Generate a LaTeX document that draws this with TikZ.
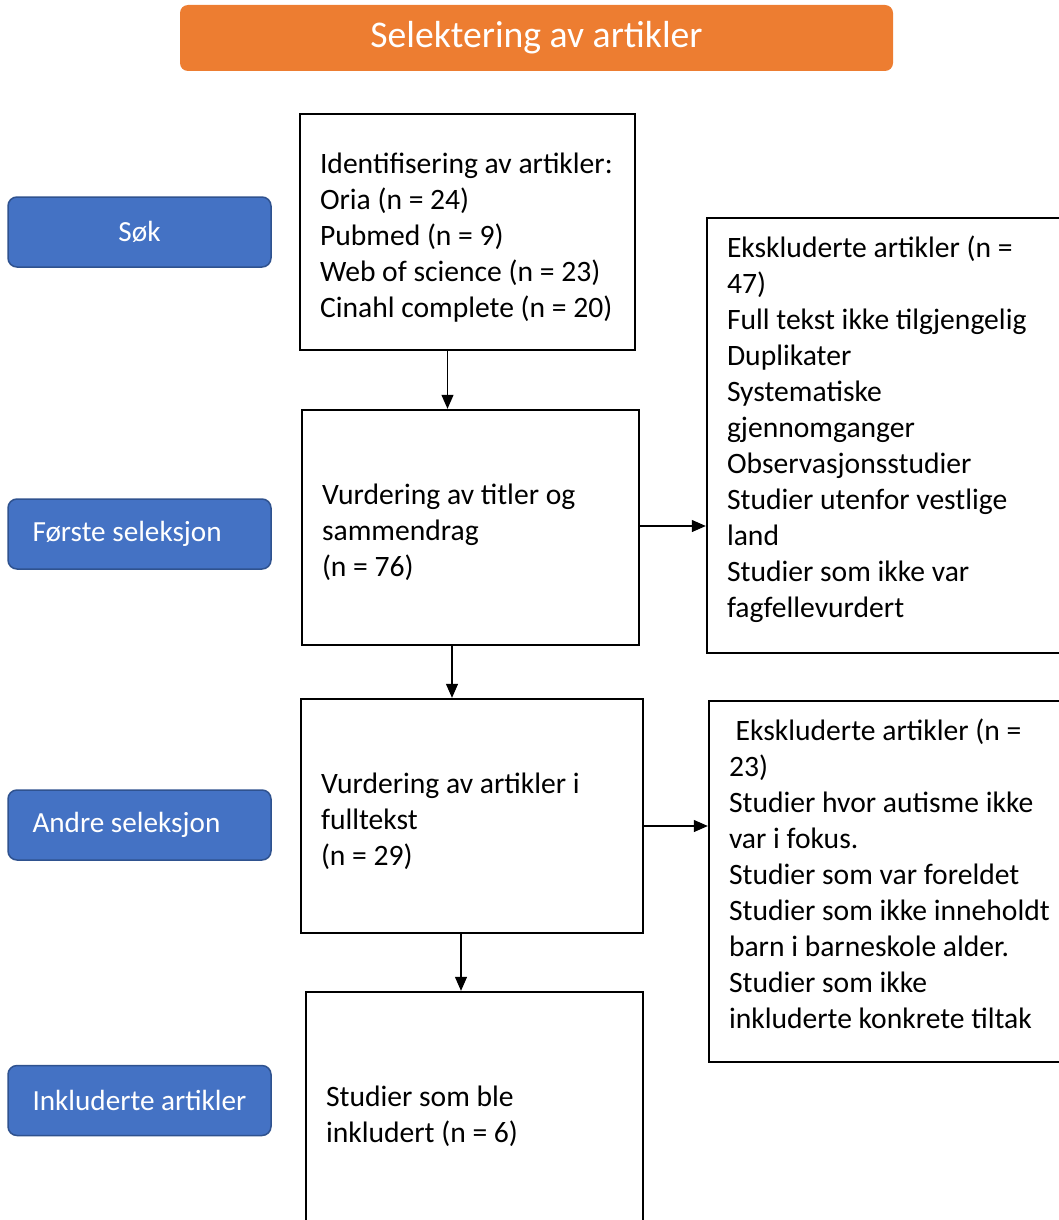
\documentclass[tikz,border=0pt]{standalone}
\usepackage{fontspec}
\setmainfont{Carlito}
\usetikzlibrary{arrows.meta, positioning}

\definecolor{phaseblue}{HTML}{4472C4}
\definecolor{phaseedge}{HTML}{2F528F}
\definecolor{titleorange}{HTML}{ED7D31}

\begin{document}
\begin{tikzpicture}[
    x=1pt, y=-1pt,
    font=\fontsize{29.6}{36}\selectfont,
    title/.style={fill=titleorange, rounded corners=8pt, text=white,
        minimum width=713pt, minimum height=66pt, font=\fontsize{37.7}{44}\selectfont},
    phase/.style={draw=phaseedge, line width=1.5pt, fill=phaseblue, rounded corners=9pt,
        text=white, minimum height=70pt, text width=214pt, inner xsep=24.5pt,
        align=flush left, font=\fontsize{29.2}{35}\selectfont},
    stage/.style={draw=black, line width=2.4pt, align=flush left, inner xsep=20pt, inner ysep=0pt,
        execute at begin node={\rule{0pt}{31pt}}},
    excl/.style={draw=black, line width=2.4pt, align=flush left, inner xsep=20pt, inner ysep=0pt,
        text width=330pt, execute at end node={\rule[-#1]{0pt}{0pt}}},
    arrow/.style={-{Triangle[length=14pt, width=12pt]}, line width=1.2pt, draw=black}
]
\useasboundingbox (0,0) rectangle (1059,1220);
\clip (0,0) rectangle (1059,1220);

\node[title] (head) at (536.5,38) {Selektering av artikler};

\node[phase, align=flush center] (sok) at (139.5,232) {Søk};
\node[phase] (forste) at (139.5,534) {Første seleksjon};
\node[phase] (andre) at (139.5,825) {Andre seleksjon};
\node[phase] (inkl) at (139.5,1100.5) {Inkluderte artikler};

\node[stage, text width=295pt, minimum height=236pt] (ident) at (467.5,232)
    {Identifisering av artikler:\\Oria (n = 24)\\Pubmed (n = 9)\\Web of science (n = 23)\\Cinahl complete (n = 20)};
\node[stage, text width=297pt, minimum height=235pt] (titler) at (470.5,527.5)
    {Vurdering av titler og\\sammendrag\\(n = 76)};
\node[stage, text width=302pt, minimum height=234pt] (fulltekst) at (472,816)
    {Vurdering av artikler i\\fulltekst\\(n = 29)};
\node[stage, text width=297pt, minimum height=238pt] (inkludert) at (474.5,1111)
    {Studier som ble\\inkludert (n = 6)};

\node[excl=17pt, minimum height=435pt] (eks1) at (892,435.5)
    {Ekskluderte artikler (n =\\47)\\Full tekst ikke tilgjengelig\\Duplikater\\Systematiske\\gjennomganger\\Observasjonsstudier\\Studier utenfor vestlige\\land\\Studier som ikke var\\fagfellevurdert};
\node[excl=15pt, minimum height=361pt] (eks2) at (894,881.5)
    {\ Ekskluderte artikler (n =\\23)\\Studier hvor autisme ikke\\var i fokus.\\Studier som var foreldet\\Studier som ikke inneholdt\\barn i barneskole alder.\\Studier som ikke\\inkluderte konkrete tiltak};

\draw[arrow] ([xshift=-20pt]ident.south) -- ([xshift=-20pt]ident.south |- titler.north);
\draw[arrow] ([xshift=-18.5pt]titler.south) -- ([xshift=-18.5pt]titler.south |- fulltekst.north);
\draw[arrow] ([xshift=-11pt]fulltekst.south) -- ([xshift=-11pt]fulltekst.south |- inkludert.north);
\draw[arrow] ([yshift=1.5pt]titler.east) -- ([yshift=1.5pt]titler.east -| eks1.west);
\draw[arrow] ([yshift=-10pt]fulltekst.east) -- ([yshift=-10pt]fulltekst.east -| eks2.west);
\end{tikzpicture}
\end{document}
